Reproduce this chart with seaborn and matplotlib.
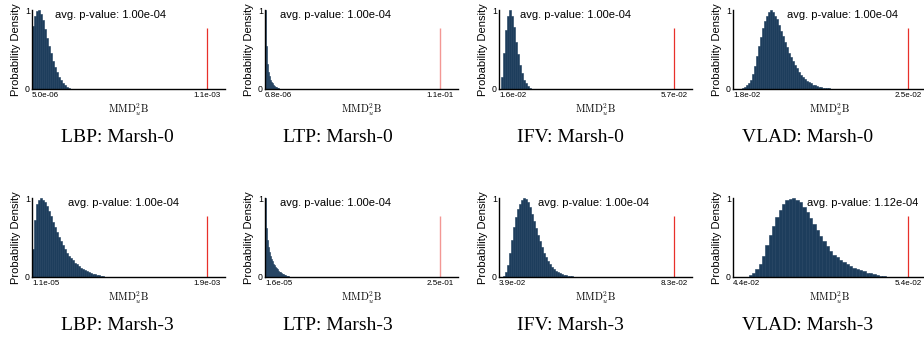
import numpy as np
import pandas as pd
import seaborn as sns
import matplotlib
matplotlib.use("Agg")
import matplotlib.pyplot as plt

sns.set_style("white")
plt.rcParams["font.family"] = ["Liberation Sans", "DejaVu Sans"]
plt.rcParams["mathtext.fontset"] = "cm"
plt.rcParams["text.color"] = "black"
plt.rcParams["axes.labelcolor"] = "black"
plt.rcParams["xtick.color"] = "black"
plt.rcParams["ytick.color"] = "black"

# ---------------- data ----------------
features = ["LBP", "LTP", "IFV", "VLAD", "LBP", "LTP", "IFV", "VLAD"]
datasets = ["Marsh-0"] * 4 + ["Marsh-3"] * 4
p_values = ["1.00e-04", "1.00e-04", "1.00e-04", "1.00e-04",
            "1.00e-04", "1.00e-04", "1.00e-04", "1.12e-04"]
min_labels = ["5.0e-06", "6.8e-06", "1.6e-02", "1.8e-02",
              "1.1e-05", "1.6e-05", "3.9e-02", "4.4e-02"]
stat_labels = ["1.1e-03", "1.1e-01", "5.7e-02", "2.5e-02",
               "1.9e-03", "2.5e-01", "8.3e-02", "5.4e-02"]
min_values = [5.0e-06, 6.8e-06, 1.6e-02, 1.8e-02, 1.1e-05, 1.6e-05, 3.9e-02, 4.4e-02]
stat_values = [1.1e-03, 1.1e-01, 5.7e-02, 2.5e-02, 1.9e-03, 2.5e-01, 8.3e-02, 5.4e-02]

# histogram range (null distribution of MMD^2_u B) per panel
hist_lo = [5.0e-06, 6.8e-06, 0.016469, 0.01836, 1.1e-05, 1.6e-05, 0.040006, 0.044895]
hist_hi = [2.553e-04, 1.0063e-02, 0.023497, 0.02204, 8.097e-04, 0.037157, 0.059114, 0.052895]

# normalised bin heights (peak = 1)
h_lbp0 = [0.80, 0.92, 0.99, 1.0, 0.95, 0.87, 0.76, 0.65, 0.55, 0.45,
          0.36, 0.28, 0.21, 0.15, 0.11, 0.07, 0.05, 0.03, 0.015, 0.005]
h_ltp0 = [1.0, 0.55, 0.32, 0.22, 0.16, 0.12, 0.09, 0.07, 0.055, 0.04,
          0.03, 0.022, 0.015, 0.01, 0.006, 0.003]
h_ifv0 = [0.15, 0.45, 0.75, 0.93, 1.0, 0.92, 0.78, 0.60, 0.44, 0.31,
          0.20, 0.12, 0.07, 0.04, 0.015]
h_vlad0 = [0.01, 0.03, 0.05, 0.08, 0.12, 0.19, 0.29, 0.42, 0.54, 0.66,
           0.77, 0.86, 0.93, 0.98, 1.0, 0.98, 0.93, 0.88, 0.81, 0.74,
           0.67, 0.60, 0.53, 0.46, 0.40, 0.35, 0.30, 0.26, 0.22, 0.18,
           0.15, 0.125, 0.10, 0.085, 0.07, 0.055, 0.045, 0.035, 0.028, 0.022,
           0.017, 0.013, 0.01, 0.007, 0.005, 0.003]
h_lbp3 = [0.35, 0.72, 0.92, 0.98, 1.0, 0.98, 0.95, 0.90, 0.84, 0.77,
          0.70, 0.63, 0.57, 0.51, 0.45, 0.40, 0.35, 0.31, 0.27, 0.24,
          0.21, 0.18, 0.16, 0.14, 0.12, 0.10, 0.085, 0.072, 0.06, 0.05,
          0.04, 0.032, 0.025, 0.019, 0.014, 0.009, 0.005]
h_ltp3 = [1.0, 0.62, 0.47, 0.38, 0.32, 0.27, 0.23, 0.20, 0.17, 0.15,
          0.13, 0.11, 0.095, 0.08, 0.068, 0.058, 0.048, 0.04, 0.033, 0.027,
          0.021, 0.016, 0.012, 0.008, 0.005, 0.003]
h_ifv3 = [0.01, 0.06, 0.15, 0.30, 0.47, 0.63, 0.76, 0.86, 0.93, 0.97,
          1.0, 0.99, 0.95, 0.88, 0.80, 0.71, 0.62, 0.53, 0.45, 0.38,
          0.31, 0.25, 0.20, 0.16, 0.125, 0.10, 0.08, 0.06, 0.048, 0.038,
          0.029, 0.022, 0.016, 0.011, 0.008, 0.005, 0.003, 0.001]
h_vlad3 = [0.02, 0.05, 0.10, 0.17, 0.27, 0.40, 0.53, 0.65, 0.76, 0.85,
           0.92, 0.97, 0.99, 1.0, 0.98, 0.95, 0.89, 0.82, 0.75, 0.67,
           0.59, 0.52, 0.45, 0.39, 0.33, 0.28, 0.25, 0.22, 0.19, 0.16,
           0.14, 0.12, 0.10, 0.085, 0.07, 0.055, 0.045, 0.035, 0.025, 0.017,
           0.01, 0.004]
heights = [h_lbp0, h_ltp0, h_ifv0, h_vlad0, h_lbp3, h_ltp3, h_ifv3, h_vlad3]
stat_line_height = 0.77

# ---------------- layout ----------------
W, H = 924, 347
fig = plt.figure(figsize=(W / 100, H / 100), dpi=100)
ax_left_px = [32, 265, 499, 733]
ax_w_px, ax_h_px = 193, 79
row_bottom_px = [89, 277]
title_x_px = [117, 338, 570, 808]
title_y_px = [137, 325]
text_off_px = [23, 15, 21, 54, 36, 15, 39, 74]

hist_color = "#1d3d5c"

for i in range(8):
    r, c = divmod(i, 4)
    ax = fig.add_axes([ax_left_px[c] / W, (H - row_bottom_px[r]) / H,
                       ax_w_px / W, ax_h_px / H])
    n = len(heights[i])
    edges = np.linspace(hist_lo[i], hist_hi[i], n + 1)
    centers = (edges[:-1] + edges[1:]) / 2
    df = pd.DataFrame({"mmd": centers, "h": np.asarray(heights[i], float)})
    sns.histplot(data=df, x="mmd", weights="h", bins=n,
                 binrange=(hist_lo[i], hist_hi[i]), ax=ax,
                 color=hist_color, alpha=1, edgecolor=hist_color,
                 linewidth=0.4, element="bars", stat="count")
    t0, t1 = min_values[i], stat_values[i]
    ltp = features[i] == "LTP"
    ax.vlines(t1, 0, stat_line_height, color="#e8302a",
              alpha=0.5 if ltp else 1.0, linewidth=1.0 if ltp else 0.9)
    ax.set_xlim(t0, t0 + 1.1 * (t1 - t0))
    ax.set_ylim(0, 1)
    ax.set_xticks([t0, t1])
    ax.set_xticklabels([min_labels[i], stat_labels[i]], fontsize=5.8)
    ax.get_xticklabels()[0].set_horizontalalignment("left")
    ax.set_yticks([0, 1])
    ax.set_yticklabels(["0", "1"], fontsize=6.3)
    ax.tick_params(axis="both", direction="in", length=2, width=0.6,
                   pad=1.5, colors="black")
    ax.tick_params(axis="x", pad=2)
    for s in ["top", "right"]:
        ax.spines[s].set_visible(False)
    for s in ["left", "bottom"]:
        ax.spines[s].set_color("black")
        ax.spines[s].set_linewidth(1.0)
    ax.set_ylabel("Probability Density", fontsize=8, labelpad=2.5)
    ax.set_xlabel(r"$\mathrm{MMD}_u^2\mathrm{B}$", fontsize=7.5, labelpad=2)
    ax.text(text_off_px[i] / ax_w_px, 0.94, f"avg. p-value: {p_values[i]}",
            transform=ax.transAxes, fontsize=8, ha="left", va="center")
    ax.patch.set_alpha(0)
    fig.text(title_x_px[c] / W, 1 - title_y_px[r] / H,
             f"{features[i]}: {datasets[i]}", ha="center", va="center",
             fontsize=14, family=["Liberation Serif", "DejaVu Serif"])

fig.savefig("out.png", dpi=100)
